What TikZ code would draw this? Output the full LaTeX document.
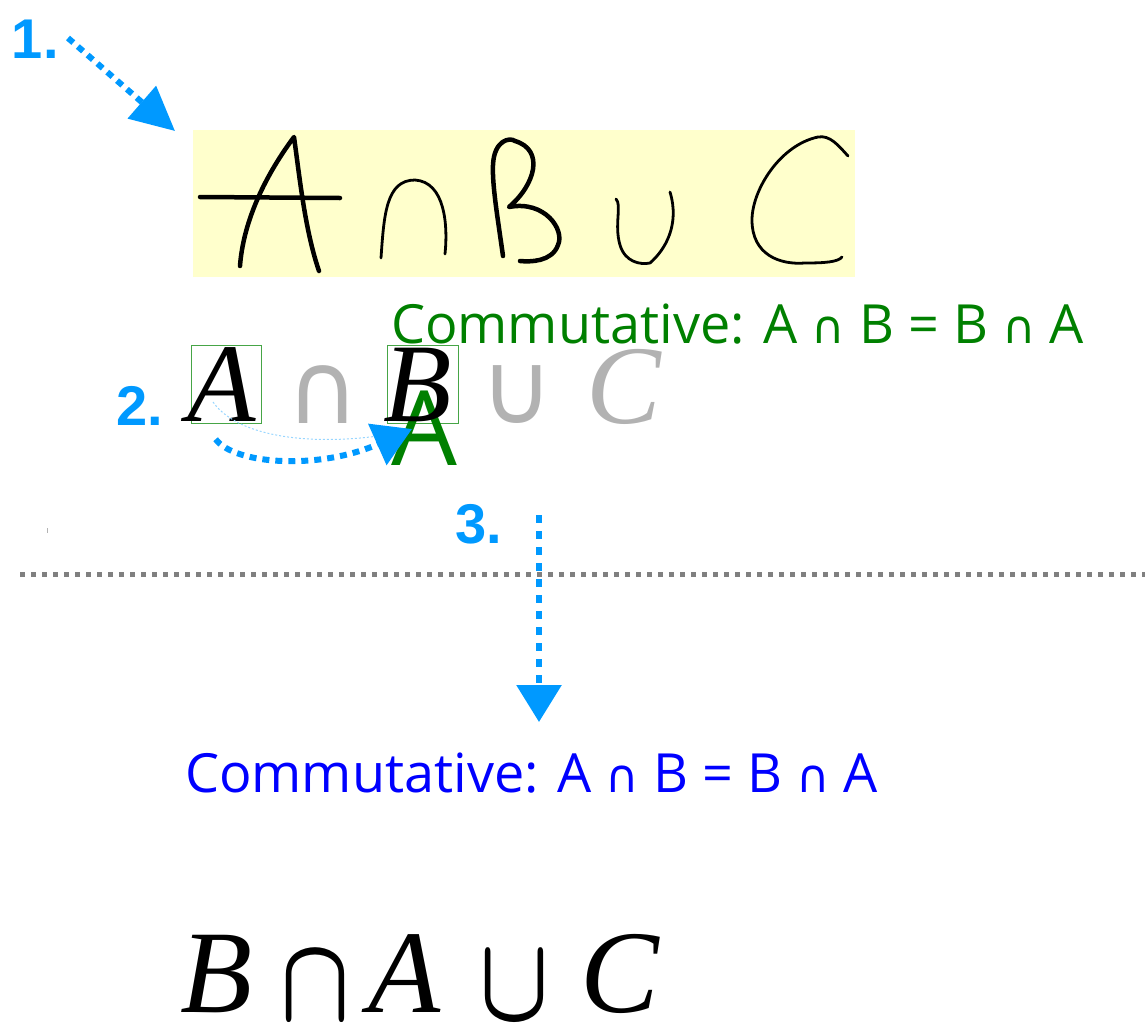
\documentclass[tikz,border=0pt]{standalone}
\usepackage{fontspec}
\usetikzlibrary{arrows.meta}
\newfontfamily\uisans{Open Sans}
\newfontfamily\symf{DejaVu Sans}
\newfontfamily\serf{Liberation Serif}
\newfontfamily\numsans{Liberation Sans}
\definecolor{arrowblue}{RGB}{0,153,255}
\definecolor{hlyellow}{RGB}{255,255,204}
\definecolor{cgreen}{RGB}{0,128,0}
\definecolor{boxgreen}{RGB}{70,165,70}
\definecolor{lgray}{RGB}{178,178,178}
\definecolor{sepgray}{RGB}{128,128,128}
\definecolor{cblue}{RGB}{0,0,255}
\tikzset{
  lbl/.style={inner sep=0pt, outer sep=0pt, anchor=base west},
  numlbl/.style={lbl, text=arrowblue, font=\numsans\bfseries\fontsize{56}{60}\selectfont},
  dotarrow/.style={draw=arrowblue, line width=6pt, dash pattern=on 7pt off 6pt},
  hand/.style={line width=4.5pt, line cap=round, line join=round},
  handthin/.style={line width=2.8pt, line cap=round, line join=round},
  commtext/.style={lbl, font=\uisans\fontsize{54}{60}\selectfont},
  bigital/.style={lbl, font=\serf\itshape\fontsize{112}{120}\selectfont},
  resital/.style={lbl, font=\serf\itshape\fontsize{118}{120}\selectfont},
  graysym/.style={lbl, text=lgray, font=\symf\fontsize{100}{110}\selectfont},
  selbox/.style={draw=boxgreen, line width=1.2pt, inner sep=0pt, anchor=north west},
}
\newcommand{\smallcap}{{\symf\scalebox{0.85}{∩}}}
\begin{document}
\begin{tikzpicture}[x=1pt,y=-1pt]
\useasboundingbox (0,0) rectangle (1145,1023);

% ---- step 1: handwriting ----
\node[fill=hlyellow, minimum width=662pt, minimum height=147pt, inner sep=0pt, anchor=north west] (hw) at (193,130) {};
% A
\draw[hand] (240,266) .. controls (243,225) and (262,180) .. (294,137) .. controls (300,180) and (305,230) .. (319,271);
\draw[hand] (200,197) -- (340,198);
% cap
\draw[handthin] (381,258) .. controls (384,215) and (386,180) .. (415,180) .. controls (445,182) and (448,225) .. (445,254);
% B
\draw[hand] (503,256) .. controls (498,220) and (492,185) .. (493,165) .. controls (494,140) and (510,137) .. (515,141) .. controls (545,150) and (535,185) .. (509,207) .. controls (545,200) and (565,230) .. (558,245) .. controls (552,262) and (530,262) .. (520,261);
% cup
\draw[handthin] (616,199) .. controls (622,205) and (614,225) .. (620,245) .. controls (625,262) and (640,265) .. (650,263) .. controls (665,250) and (680,225) .. (670,192);
% C
\draw[handthin] (848,156) .. controls (838,145) and (830,135) .. (818,137) .. controls (780,145) and (752,190) .. (752,220) .. controls (752,255) and (780,265) .. (805,263) .. controls (825,263) and (838,262) .. (842,257);

\node[numlbl] (n1) at (12,58) {1.};
\coordinate (t1) at (175,131);
\draw[dotarrow, -{Triangle[length=44pt,width=42pt]}] (68,38) -- (t1);

% ---- green commutative text ----
\node[commtext, text=cgreen] (comm1) at (391,343) {Commutative: A \smallcap\ B = B \smallcap\ A};

% ---- step 2: row ----
\node[selbox, minimum width=70pt, minimum height=78pt] (boxA) at (191,345) {};
\node[selbox, minimum width=71pt, minimum height=78pt] (boxB) at (387,345) {};
\node[lbl, text=cgreen, font=\uisans\fontsize{104}{110}\selectfont] (gA) at (391,465) {A};
\node[bigital] (iA) at (187,421) {A};
\node[graysym] (gcap) at (286,423) {∩};
\node[bigital] (iB) at (383,421) {B};
\node[graysym] (gcup) at (480,423) {∪};
\node[bigital, text=lgray] (gC) at (586,423) {C};
\node[numlbl] (n2) at (116,425) {2.};
% thin faint trace
\draw[arrowblue!40, line width=1pt, dash pattern=on 2pt off 2pt] (213,402) .. controls (240,440) and (320,445) .. (385,435);
\coordinate (t2) at (412,429);
\draw[dotarrow, -{Triangle[length=38pt,width=44pt]}] ([xshift=-11pt,yshift=-15pt]boxA.south) .. controls (235,465) and (320,470) .. (t2);

% ---- step 3 ----
\node[numlbl] (n3) at (455,543) {3.};
\draw[sepgray, line width=5pt, dash pattern=on 5pt off 6pt] (20,574) -- (1145,574);
\draw[sepgray!60, line width=0.8pt] (47,528) -- (47,533);
\coordinate (s3) at (539,515);
\coordinate (t3) at (539,722);
\draw[dotarrow, dash pattern=on 8pt off 8pt, -{Triangle[length=37pt,width=44pt]}] (s3) -- (t3);

% ---- blue text ----
\node[commtext, text=cblue] (comm2) at (185,792) {Commutative: A \smallcap\ B = B \smallcap\ A};

% ---- result ----
\node[resital] (rB) at (180,1012) {B};
\node[lbl, anchor=south west] (rcap) at (280,1020) {\resizebox{70pt}{67pt}{\boldmath$\cap$}};
\node[resital] (rA) at (368,1012) {A};
\node[lbl, anchor=south west] (rcup) at (479,1020) {\resizebox{70pt}{67pt}{\boldmath$\cup$}};
\node[resital] (rC) at (580,1012) {C};
\end{tikzpicture}
\end{document}
